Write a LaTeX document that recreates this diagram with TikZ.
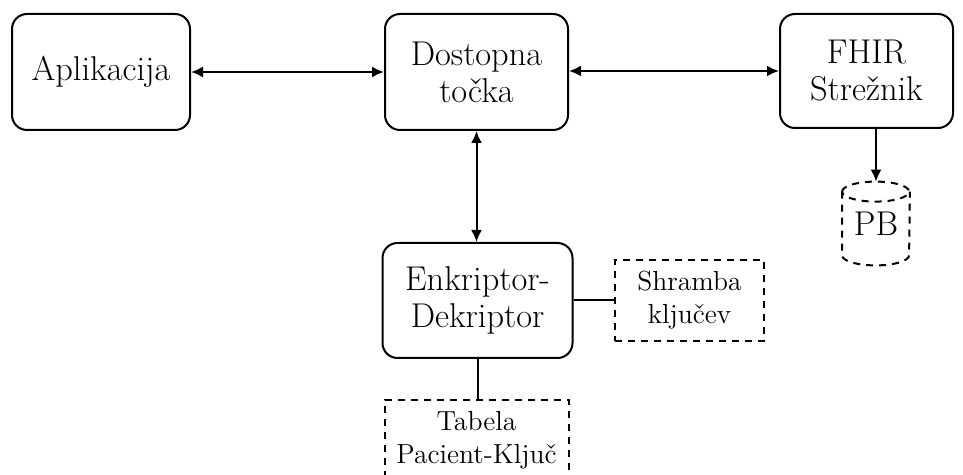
\documentclass[tikz,border=0pt]{standalone}
\usepackage{fontspec}
\usetikzlibrary{arrows.meta}
\tikzset{
  box/.style={draw, line width=1pt, rounded corners=7.5pt, align=center,
    font=\fontsize{17.2}{18.5}\selectfont, inner sep=0pt},
  store/.style={draw, line width=1pt, dash pattern=on 3.5pt off 3pt, align=center,
    font=\fontsize{13.8}{16.5}\selectfont, inner sep=0pt},
  link/.style={line width=1pt, {Latex[length=6pt,width=5.5pt]}-{Latex[length=6pt,width=5.5pt]}},
  flow/.style={line width=1pt, -{Latex[length=6pt,width=5.5pt]}},
  plain/.style={line width=1pt}
}
\begin{document}
\begin{tikzpicture}[x=0.5pt, y=-0.5pt]
\useasboundingbox (0,0) rectangle (963,475);

% main components
\node[box, minimum width=89pt, minimum height=58pt] (app) at (101,72) {Aplikacija};
\node[box, minimum width=91.5pt, minimum height=58pt] (dost) at (476.5,72) {Dostopna\\točka};
\node[box, minimum width=86.5pt, minimum height=57pt] (fhir) at (866.5,71) {FHIR\\Strežnik};
\node[box, minimum width=95pt, minimum height=57.5pt] (enc) at (477.5,300.5) {Enkriptor-\\Dekriptor};

% storage
\node[store, minimum width=74.5pt, minimum height=40.5pt] (shr) at (689.5,300.5) {Shramba\\ključev};
\node[store, minimum width=92pt, minimum height=40.5pt] (tab) at (476.5,440.5) {Tabela\\Pacient-Ključ};

% database cylinder
\node[inner sep=0pt, minimum width=33.5pt, minimum height=41.5pt,
  font=\fontsize{17.2}{18}\selectfont] (pb) at (876,223.5) {\raisebox{-2pt}{PB}};
\draw[line width=1pt, dash pattern=on 3.5pt off 3pt]
  ([yshift=-5pt]pb.north west) -- ([yshift=5pt]pb.south west)
  arc[start angle=180, end angle=360, x radius=16.75pt, y radius=5pt]
  -- ([yshift=-5pt]pb.north east)
  ([yshift=-5pt]pb.north west) arc[start angle=180, end angle=-180, x radius=16.75pt, y radius=5pt];

% connectors
\draw[link] (app) -- (dost);
\draw[link] (dost.east |- fhir) -- (fhir);
\draw[link] (dost.south) -- (dost.south |- enc.north);
\draw[flow] (pb.north |- fhir.south) -- (pb.north);
\draw[plain] (enc.east |- shr.west) -- (shr.west);
\draw[plain] (enc.south) -- (enc.south |- tab.north);
\end{tikzpicture}
\end{document}
